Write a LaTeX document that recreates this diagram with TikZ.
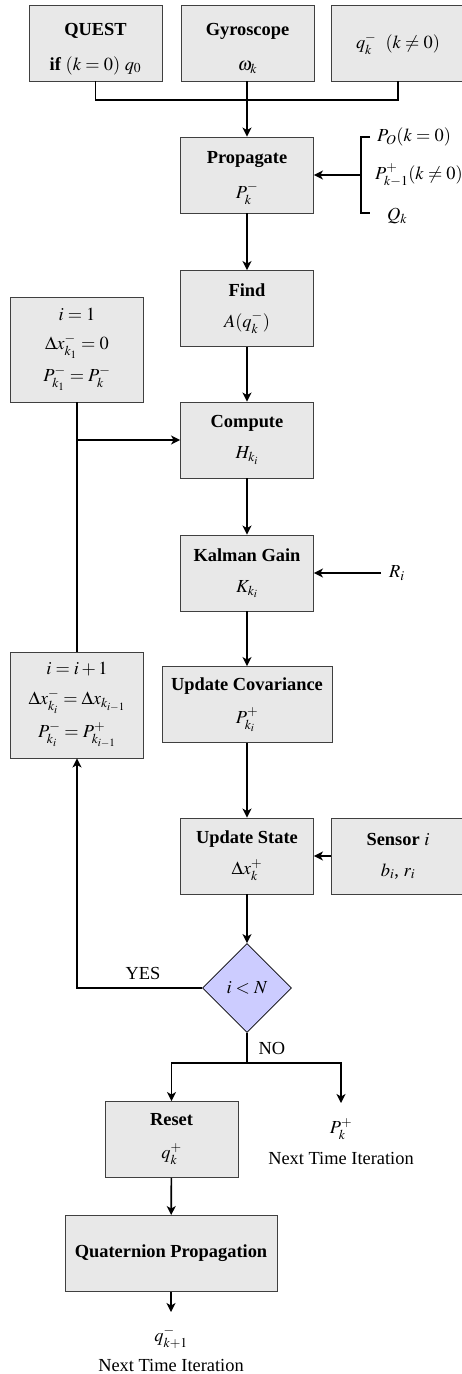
\documentclass[tikz,border=0pt]{standalone}
\usepackage{mathptmx}
\usepackage[no-math]{fontspec}
\setmainfont{Liberation Serif}
\usetikzlibrary{arrows.meta,shapes.geometric}
\newcommand{\topstrut}[1]{\rule{0pt}{#1}}
\begin{document}
\begin{tikzpicture}[x=1pt,y=-1pt,
  font=\fontsize{18.4}{22}\selectfont,
  box/.style={draw=black!75, line width=0.9pt, fill=gray!18, minimum width=133pt,
    minimum height=76pt, align=center, inner sep=2pt},
  decision/.style={diamond, draw=black, line width=0.8pt, fill=blue!20, minimum width=89pt,
    minimum height=89pt, inner sep=0pt},
  conn/.style={line width=1.6pt},
  arr/.style={conn, -{Stealth[length=9pt,width=9pt,inset=2.5pt]}},
  lbl/.style={inner sep=1pt, align=center}]
\useasboundingbox (0,0) rectangle (461,1374);

% top row
\node[box] (quest) at (95.5,43) {\topstrut{24pt}\textbf{QUEST}\\[13pt]\textbf{if} $(k=0)\ q_0$};
\node[box] (gyro) at (247.5,43) {\topstrut{24pt}\textbf{Gyroscope}\\[13pt]$\omega_k$};
\node[box] (qprev) at (398,43) {\topstrut{18pt}$q_k^-\ \ (k\neq0)$};

% main column
\node[box] (prop) at (247,175) {\topstrut{18pt}\textbf{Propagate}\\[13pt]$P_k^-$};
\node[box] (find) at (247,308.5) {\textbf{Find}\\[9pt]$A(q_k^-)$};
\node[box] (comp) at (247,440) {\textbf{Compute}\\[9pt]$H_{k_i}$};
\node[box] (kal) at (247,573) {\textbf{Kalman Gain}\\[9pt]$K_{k_i}$};
\node[box, minimum width=170pt] (ucov) at (247,704.5) {\textbf{Update Covariance}\\[11pt]$P_{k_i}^+$};
\node[box] (ust) at (247,856) {\textbf{Update State}\\[9pt]$\Delta x_k^+$};
\node[box] (sens) at (398,856) {\textbf{Sensor} $i$\\[9pt]$b_i$, $r_i$};
\node[decision] (dec) at (247,988) {$i<N$};

% left column
\node[box, minimum height=105pt] (init) at (77,349.5)
  {$i=1$\\[7pt]$\Delta x_{k_1}^-=0$\\[7pt]$P_{k_1}^-=P_k^-$};
\node[box, minimum height=106pt] (incr) at (77,705)
  {$i=i+1$\\[8pt]$\Delta x_{k_i}^-=\Delta x_{k_{i-1}}$\\[8pt]$P_{k_i}^-=P_{k_{i-1}}^+$};

% bottom
\node[box] (reset) at (171.5,1139.5) {\textbf{Reset}\\[11pt]$q_k^+$};
\node[box, minimum width=212pt] (quat) at (171,1253.5) {\textbf{Quaternion Propagation}};
\node[lbl, anchor=north, inner ysep=15pt] (pnext) at (341,1103) {$P_k^+$\\[9pt]Next Time Iteration};
\node[lbl, anchor=north, inner ysep=14pt] (qnext) at (171,1312) {$q_{k+1}^-$\\[8pt]Next Time Iteration};

% side inputs of Propagate
\coordinate (bt) at (361,137);
\coordinate (bm) at (361,175);
\coordinate (bb) at (361,213);
\coordinate (tt) at (370,137);
\coordinate (tb) at (370,213);
\node[lbl, anchor=west] (p0) at (376,137) {$P_O(k=0)$};
\node[lbl, anchor=west] (pkm) at (374,175) {$P_{k-1}^+(k\neq0)$};
\node[lbl, anchor=west] (qk) at (386,216) {$Q_k$};
\draw[conn] (tt) -- (bt) -- (bb) -- (tb);
\draw[arr] (bm) -- (prop.east);

% R_i
\node[lbl, anchor=west] (ri) at (388,573) {$R_i$};
\coordinate (rs) at (381,573);
\draw[arr] (rs) -- (kal.east);

% top join
\coordinate (join) at (247,100);
\draw[conn] (quest.south) -- (quest.south |- join) -- (qprev.south |- join) -- (qprev.south);
\draw[arr] (gyro.south -| prop.north) -- (prop.north);

% main flow
\draw[arr] (prop) -- (find);
\draw[arr] (find) -- (comp);
\draw[arr] (comp) -- (kal);
\draw[arr] (kal) -- (ucov);
\draw[arr] (ucov) -- (ust);
\draw[arr] (sens) -- (ust);
\draw[arr] (ust) -- (dec);

% loop
\coordinate (cj) at (init.south |- comp.west);
\draw[conn] (init.south) -- (cj);
\draw[conn] (incr.north) -- (cj);
\draw[arr] (cj) -- (comp.west);
\draw[arr] (dec.west) -- (dec.west -| incr.south) -- (incr.south);
\node[lbl] (yes) at (143,973) {YES};

% NO branch
\coordinate (nj) at (247,1063);
\draw[conn] (dec.south) -- (nj);
\node[lbl] (no) at (272,1048) {NO};
\draw[arr] (nj) -- (nj -| reset.north) -- (reset.north);
\draw[arr] (nj) -- (nj -| pnext.north) -- (pnext.north);
\draw[arr] (reset) -- (quat);
\draw[arr] (quat.south) -- (qnext.north);
\end{tikzpicture}
\end{document}
